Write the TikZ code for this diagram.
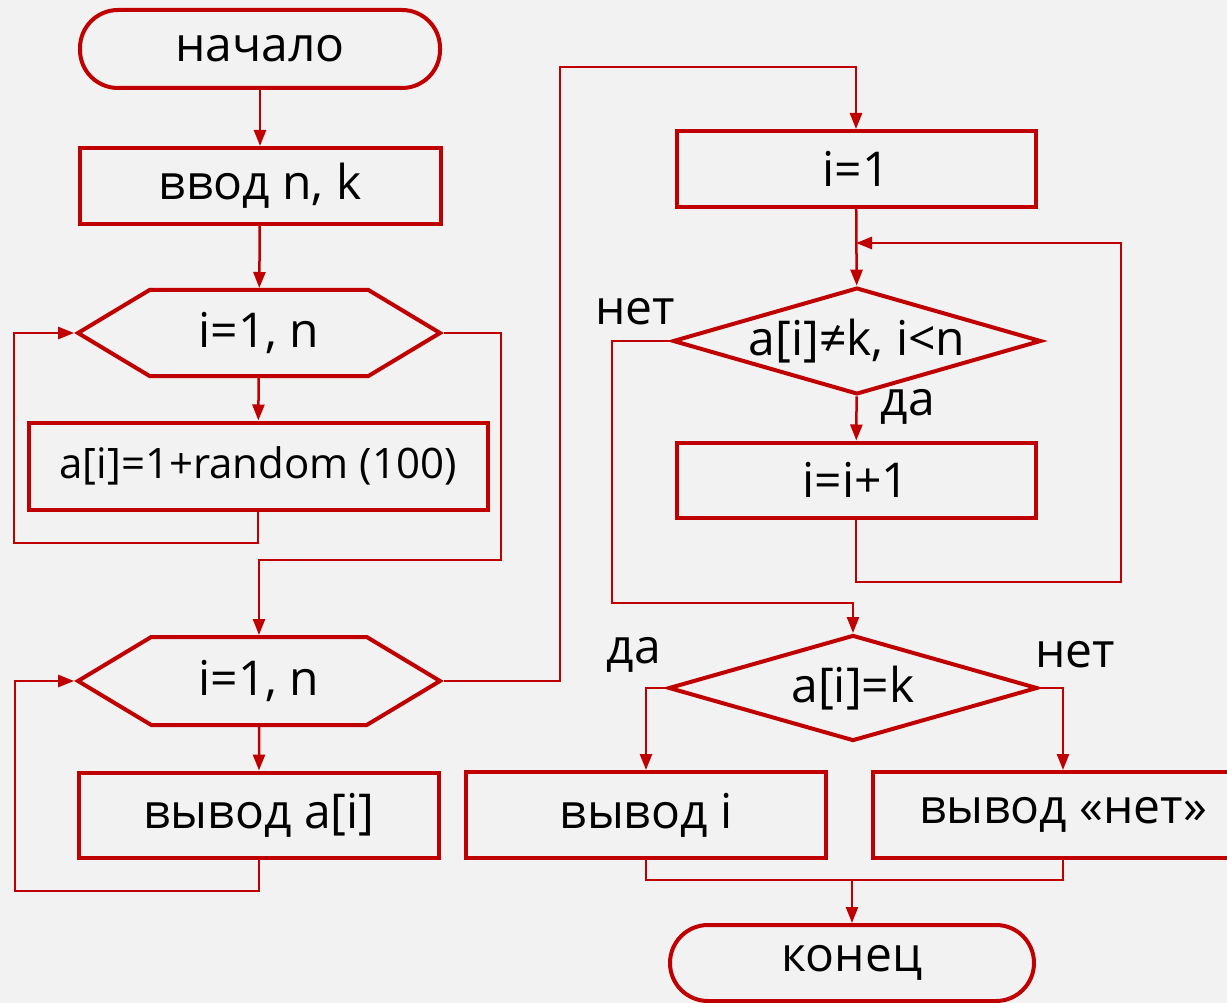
\documentclass[tikz,border=0pt]{standalone}
\usepackage{fontspec}
\setmainfont{Open Sans}
\usetikzlibrary{shapes.geometric,shapes.symbols,arrows.meta}
\definecolor{flowred}{HTML}{C00000}
\definecolor{bggray}{HTML}{F2F2F2}
\begin{document}
\begin{tikzpicture}[x=1pt,y=-1pt,
  txt/.style={font=\fontsize{48}{52}\selectfont, inner sep=0pt},
  block/.style={txt, draw=flowred, line width=4pt, rectangle},
  term/.style={block, rounded corners=38pt},
  cycle/.style={txt, draw=flowred, line width=4pt, signal, signal to=west and east, signal pointer angle=62},
  cond/.style={txt, draw=flowred, line width=4pt, diamond, aspect=3.45},
  line/.style={draw=flowred, line width=2.5pt},
  arrow/.style={line, -{Triangle[length=16pt,width=12pt]}}]
\useasboundingbox[fill=bggray] (0,0) rectangle (1227,1003);
% left column
\node[term, minimum width=360pt, minimum height=78pt] (start) at (260,49) {начало};
\node[block, minimum width=361pt, minimum height=76pt] (input) at (260,186) {ввод n, k};
\node[cycle, minimum width=362pt, minimum height=86pt] (for1) at (259,333) {i=1, n};
\node[block, minimum width=459pt, minimum height=87pt, font=\fontsize{42}{46}\selectfont] (fill) at (258,466) {a[i]=1+random (100)};
\node[cycle, minimum width=362pt, minimum height=88pt] (for2) at (259,681) {i=1, n};
\node[block, minimum width=360pt, minimum height=85pt] (print) at (259,815) {вывод a[i]};
% right column
\node[block, minimum width=359pt, minimum height=76pt] (init) at (856,169) {i=1};
\node[cond, minimum width=365pt, minimum height=106pt] (search) at (857,341) {a[i]≠k, i<n};
\node[block, minimum width=359pt, minimum height=75pt] (inc) at (856,480) {i=i+1};
\node[cond, minimum width=369pt, minimum height=106pt] (check) at (853,688) {a[i]=k};
\node[block, minimum width=360pt, minimum height=86pt] (found) at (646,815) {вывод i};
\node[block, minimum width=380pt, minimum height=86pt] (notfound) at (1063,815) {вывод «нет»};
\node[term, minimum width=364pt, minimum height=76pt] (finish) at (852,963) {конец};
% labels
\node[txt] (no1) at (635,312) {нет};
\node[txt] (yes1) at (908,407) {да};
\node[txt] (yes2) at (634,655) {да};
\node[txt] (no2) at (1075,655) {нет};
% bend points
\coordinate (back1) at (14,543);
\coordinate (exit1) at (501,560);
\coordinate (back2) at (15,891);
\coordinate (exit2) at (560,67);
\coordinate (back3) at (1121,582);
\coordinate (join3) at (856,243);
\coordinate (exit3) at (612,603);
\coordinate (merge) at (852,880);
% connectors
\draw[arrow] (start) -- (input);
\draw[arrow] (input) -- (for1);
\draw[arrow] (for1) -- (fill);
\draw[arrow] (fill.south) |- (back1) |- (for1.west);
\draw[arrow] (for1.east) -| (exit1) -| (for2.north);
\draw[arrow] (for2) -- (print);
\draw[arrow] (print.south) |- (back2) |- (for2.west);
\draw[arrow] (for2.east) -| (exit2) -| (init.north);
\draw[arrow] (init) -- (search);
\draw[arrow] (search) -- (inc);
\draw[arrow] (inc.south) |- (back3) |- (join3);
\draw[arrow] (search.west) -| (exit3) -| (check.north);
\draw[arrow] (check.west) -| (found.north);
\draw[arrow] (check.east) -| (notfound.north);
\draw[line] (found.south) |- (merge) -| (notfound.south);
\draw[arrow] (merge) -- (finish);
\end{tikzpicture}
\end{document}
